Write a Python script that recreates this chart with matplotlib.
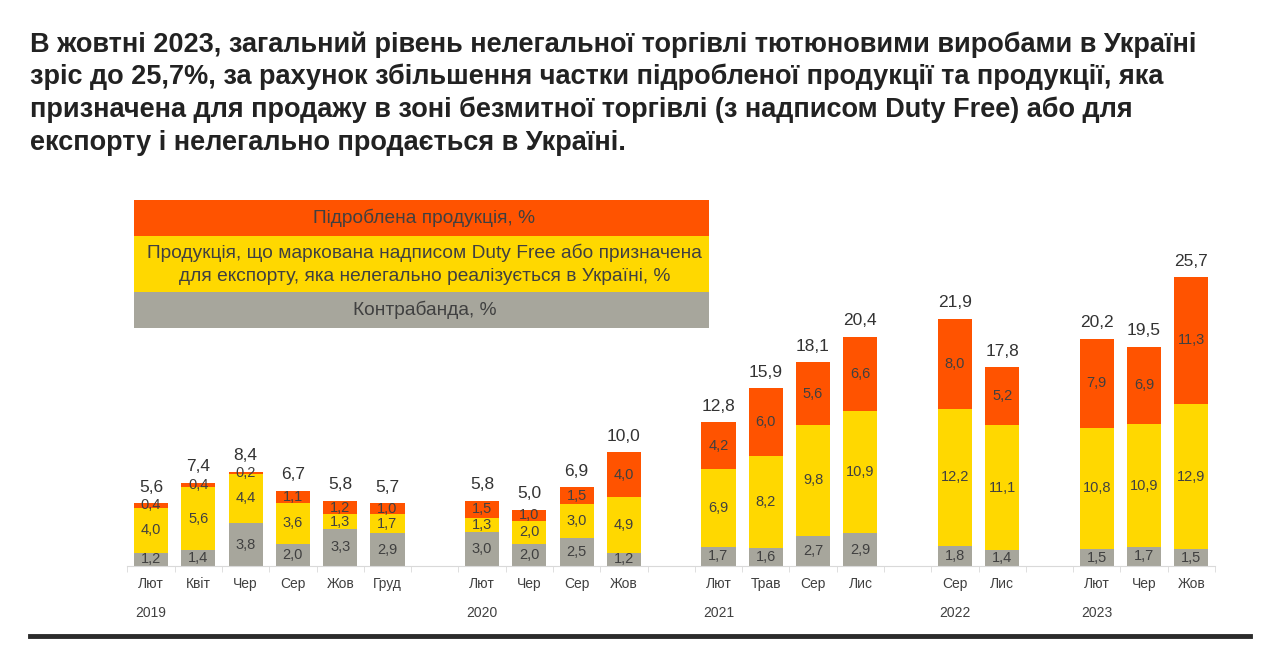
import matplotlib.pyplot as plt
from matplotlib.patches import Rectangle

plt.rcParams['font.family'] = ['Liberation Sans', 'DejaVu Sans']

# -------- DATA --------
years = ["2019", "2020", "2021", "2022", "2023"]
months = [
    ["Лют", "Квіт", "Чер", "Сер", "Жов", "Груд"],
    ["Лют", "Чер", "Сер", "Жов"],
    ["Лют", "Трав", "Сер", "Лис"],
    ["Сер", "Лис"],
    ["Лют", "Чер", "Жов"],
]
contraband = [1.2, 1.4, 3.8, 2.0, 3.3, 2.9,
              3.0, 2.0, 2.5, 1.2,
              1.7, 1.6, 2.7, 2.9,
              1.8, 1.4,
              1.5, 1.7, 1.5]
duty_free = [4.0, 5.6, 4.4, 3.6, 1.3, 1.7,
             1.3, 2.0, 3.0, 4.9,
             6.9, 8.2, 9.8, 10.9,
             12.2, 11.1,
             10.8, 10.9, 12.9]
counterfeit = [0.4, 0.4, 0.2, 1.1, 1.2, 1.0,
               1.5, 1.0, 1.5, 4.0,
               4.2, 6.0, 5.6, 6.6,
               8.0, 5.2,
               7.9, 6.9, 11.3]
totals = [5.6, 7.4, 8.4, 6.7, 5.8, 5.7,
          5.8, 5.0, 6.9, 10.0,
          12.8, 15.9, 18.1, 20.4,
          21.9, 17.8,
          20.2, 19.5, 25.7]

legend_labels = [
    "Підроблена продукція, %",
    "Продукція, що маркована надписом Duty Free або призначена\n"
    "для експорту, яка нелегально реалізується в Україні, %",
    "Контрабанда, %",
]
title_lines = [
    "В жовтні 2023, загальний рівень нелегальної торгівлі тютюновими виробами в Україні",
    "зріс до 25,7%, за рахунок збільшення частки підробленої продукції та продукції, яка",
    "призначена для продажу в зоні безмитної торгівлі (з надписом Duty Free) або для",
    "експорту і нелегально продається в Україні.",
]

# -------- STYLE --------
C_ORANGE = "#FF5300"
C_YELLOW = "#FFD800"
C_GRAY = "#A7A69C"
TXT = "#404040"


def fmt(v):
    return f"{v:.1f}".replace(".", ",")


# -------- POSITIONS (one empty slot between years) --------
pos, labels, year_pos = [], [], []
slot = 0
for g in months:
    year_pos.append(slot)
    for m in g:
        pos.append(slot)
        labels.append(m)
        slot += 1
    slot += 1
n_slots = slot - 1

W, H = 1280, 649
fig = plt.figure(figsize=(W / 100, H / 100), dpi=100)

# title, one line at a time (baselines)
for k, line in enumerate(title_lines):
    fig.text(30 / W, 1 - (52 + 32.5 * k) / H, line, ha="left", va="baseline",
             fontsize=19.5, fontweight="bold", color="#222222")

# bottom rule
fig.add_artist(plt.Line2D([30 / W, 1250 / W], [1 - 636 / H] * 2,
                          color="#2b2b2b", linewidth=3.5))

# -------- BARS --------
px_per_unit = 11.25
ymax = 30
x0, x1, base = 127.4, 1215.0, 566
ax = fig.add_axes([x0 / W, (H - base) / H, (x1 - x0) / W, ymax * px_per_unit / H])
ax.set_xlim(-0.5, n_slots - 0.5)
ax.set_ylim(0, ymax)

bw = 0.72
bottom2 = [a + b for a, b in zip(contraband, duty_free)]
ax.bar(pos, contraband, bw, color=C_GRAY)
ax.bar(pos, duty_free, bw, bottom=contraband, color=C_YELLOW)
ax.bar(pos, counterfeit, bw, bottom=bottom2, color=C_ORANGE)

for i, p in enumerate(pos):
    ax.text(p, contraband[i] / 2, fmt(contraband[i]), ha="center", va="center",
            fontsize=10.5, color=TXT)
    ax.text(p, contraband[i] + duty_free[i] / 2, fmt(duty_free[i]), ha="center",
            va="center", fontsize=10.5, color=TXT)
    ax.text(p, bottom2[i] + counterfeit[i] / 2, fmt(counterfeit[i]), ha="center",
            va="center", fontsize=10.5, color=TXT)
    ax.annotate(fmt(totals[i]), (p, bottom2[i] + counterfeit[i]), xytext=(0, 6),
                textcoords="offset points", ha="center", va="bottom",
                fontsize=12.5, color="#333333")

for sp in ["top", "right", "left"]:
    ax.spines[sp].set_visible(False)
ax.spines["bottom"].set_color("#D9D9D9")
ax.set_yticks([])
ax.set_xticks(pos, labels)
ax.tick_params(axis="x", which="major", length=0, pad=8, labelsize=10, labelcolor=TXT)
ax.set_xticks([s - 0.5 for s in range(n_slots + 1)], minor=True)
ax.tick_params(axis="x", which="minor", length=4, color="#D9D9D9")

for y, p in zip(years, year_pos):
    ax.annotate(y, (p, 0), xytext=(0, -34), textcoords="offset points",
                ha="center", va="center", fontsize=10, color=TXT)

# -------- LEGEND BOX --------
lx0, lx1 = 134, 709
rows = [(200, 236, C_ORANGE), (236, 292, C_YELLOW), (292, 328, C_GRAY)]
for (top, bot, col), lab in zip(rows, legend_labels):
    fig.add_artist(Rectangle((lx0 / W, 1 - bot / H), (lx1 - lx0) / W, (bot - top) / H,
                             transform=fig.transFigure, facecolor=col, edgecolor="none"))
    fig.text((lx0 + lx1) / 2 / W + 3 / W, 1 - (top + bot) / 2 / H, lab, ha="center",
             va="center", fontsize=13.8, color=TXT, linespacing=1.45)

fig.savefig("out.png", dpi=100)
